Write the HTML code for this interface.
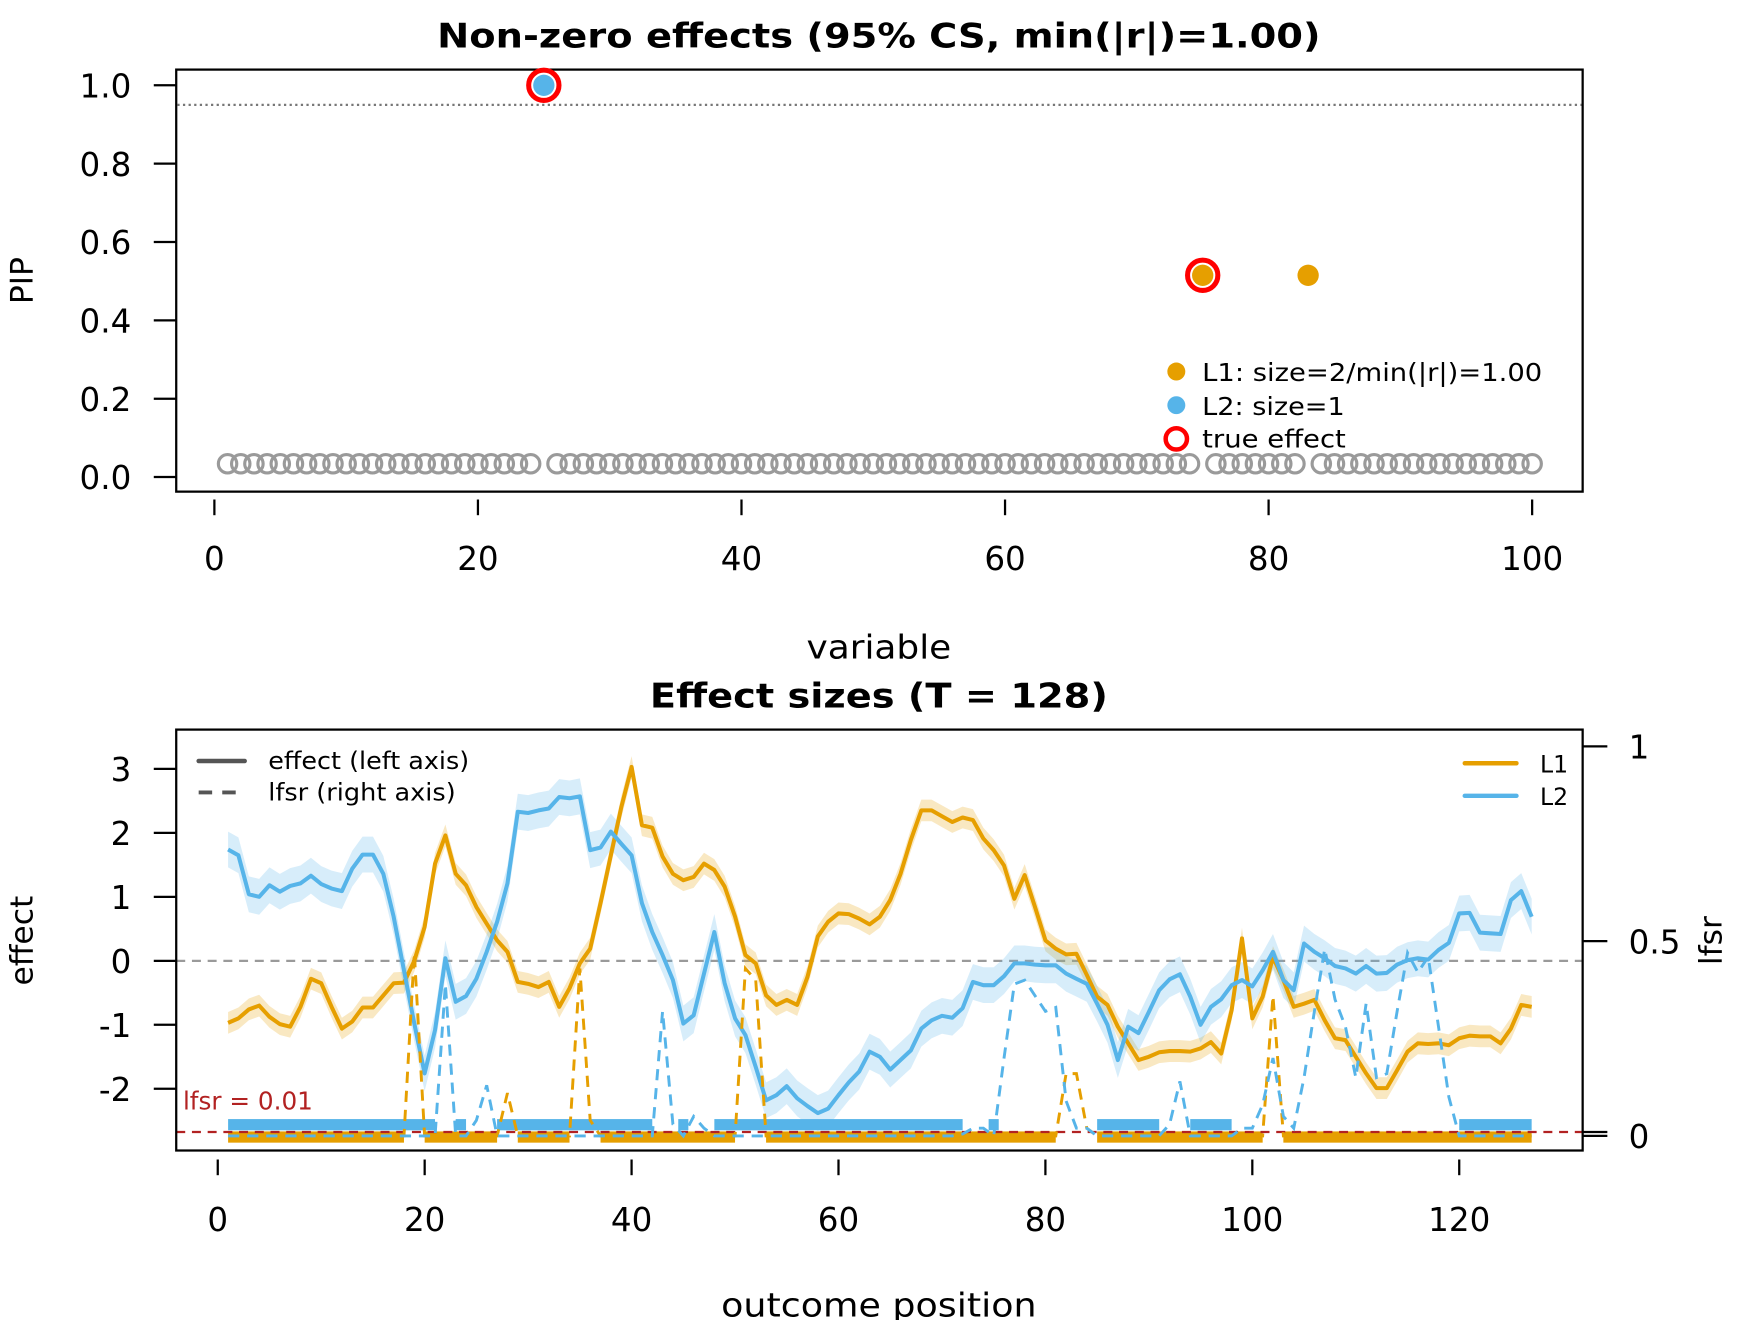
<!DOCTYPE html>
<html><head><meta charset="utf-8"><style>
html,body{margin:0;padding:0;background:#fff;}
svg{display:block;font-family:"DejaVu Sans","Liberation Sans",sans-serif;}
</style></head><body>
<svg id="fig" width="1760" height="1320" viewBox="0 0 1568 1176" xmlns="http://www.w3.org/2000/svg">
<rect x="0" y="0" width="1568" height="1176" fill="#fff"/>
<defs><clipPath id="clipB"><rect x="157" y="650" width="1253" height="375"/></clipPath></defs>
<g id="top">
<text x="783" y="32" text-anchor="middle" dominant-baseline="central" font-weight="bold" font-size="30" textLength="787" lengthAdjust="spacingAndGlyphs">Non-zero effects (95% CS, min(|r|)=1.00)</text>
<rect x="157" y="62" width="1253" height="376" fill="none" stroke="#000" stroke-width="2"/>
<text transform="translate(20,250) rotate(-90)" text-anchor="middle" dominant-baseline="central" font-size="28">PIP</text>
<text x="783" y="577" text-anchor="middle" dominant-baseline="central" font-size="29" textLength="129" lengthAdjust="spacingAndGlyphs">variable</text>
<g id="topAxes"></g>
<g id="topMarks"></g>
<g>
<circle cx="1048" cy="331" r="8" fill="#E69F00"/>
<text x="1071" y="332" dominant-baseline="central" font-size="22" textLength="303" lengthAdjust="spacingAndGlyphs">L1: size=2/min(|r|)=1.00</text>
<circle cx="1048" cy="361" r="8" fill="#56B4E9"/>
<text x="1071" y="362" dominant-baseline="central" font-size="22" textLength="127" lengthAdjust="spacingAndGlyphs">L2: size=1</text>
<circle cx="1048" cy="391" r="9.5" fill="none" stroke="#FF0000" stroke-width="4"/>
<text x="1071" y="391" dominant-baseline="central" font-size="22" textLength="128" lengthAdjust="spacingAndGlyphs">true effect</text>
</g>
</g>
<g id="bottom">
<text x="783" y="620" text-anchor="middle" dominant-baseline="central" font-weight="bold" font-size="30" textLength="408" lengthAdjust="spacingAndGlyphs">Effect sizes (T = 128)</text>
<text transform="translate(20,838) rotate(-90)" text-anchor="middle" dominant-baseline="central" font-size="28">effect</text>
<text transform="translate(1525,838) rotate(-90)" text-anchor="middle" dominant-baseline="central" font-size="28">lfsr</text>
<text x="783" y="1163" text-anchor="middle" dominant-baseline="central" font-size="29" textLength="281" lengthAdjust="spacingAndGlyphs">outcome position</text>
<g id="botAxes"></g>
<g id="botMarks" clip-path="url(#clipB)"></g>
<rect x="157" y="650" width="1253" height="375" fill="none" stroke="#000" stroke-width="2"/>
<g>
<line x1="177" y1="678" x2="218" y2="678" stroke="#555" stroke-width="4" stroke-linecap="round"/>
<text x="239" y="678" dominant-baseline="central" font-size="21" textLength="179" lengthAdjust="spacingAndGlyphs">effect (left axis)</text>
<line x1="177" y1="706" x2="218" y2="706" stroke="#555" stroke-width="3.5" stroke-dasharray="12,9"/>
<text x="239" y="706" dominant-baseline="central" font-size="21" textLength="167" lengthAdjust="spacingAndGlyphs">lfsr (right axis)</text>
</g>
<g>
<line x1="1305" y1="680" x2="1351" y2="680" stroke="#E69F00" stroke-width="4" stroke-linecap="round"/>
<text x="1372" y="681" dominant-baseline="central" font-size="21">L1</text>
<line x1="1305" y1="709" x2="1351" y2="709" stroke="#56B4E9" stroke-width="4" stroke-linecap="round"/>
<text x="1372" y="710" dominant-baseline="central" font-size="21">L2</text>
</g>
</g>
</svg>
<script>
const pipVariables = Array.from({length:100},(_,k)=>k+1);
const pipBaseline = 0.034;
const l1Members = [75, 83];
const l2Members = [25];
const l1Pip = [0.515, 0.515];
const l2Pip = [1.0];
const trueEffects = [25, 75];
const trueEffectPip = [1.0, 0.515];
const pipTicks = [0.0, 0.2, 0.4, 0.6, 0.8, 1.0];
const pipTickLabels = ["0.0","0.2","0.4","0.6","0.8","1.0"];
const varTicks = [0, 20, 40, 60, 80, 100];
const csThreshold = 0.95;

const l1Effect = [-0.97,-0.90,-0.76,-0.70,-0.875,-0.99,-1.03,-0.72,-0.28,-0.35,
-0.72,-1.06,-0.95,-0.73,-0.73,-0.54,-0.35,-0.34,0.0,0.53,
1.52,1.96,1.36,1.18,0.84,0.58,0.32,0.14,-0.33,-0.36,
-0.41,-0.33,-0.72,-0.43,-0.04,0.19,0.9,1.65,2.4,3.03,
2.12,2.08,1.63,1.36,1.26,1.31,1.52,1.42,1.16,0.69,
0.09,-0.04,-0.54,-0.69,-0.61,-0.69,-0.25,0.38,0.61,0.74,
0.73,0.66,0.57,0.69,0.95,1.36,1.89,2.35,2.35,2.26,
2.17,2.24,2.2,1.91,1.73,1.49,0.97,1.34,0.84,0.32,
0.19,0.1,0.11,-0.22,-0.56,-0.69,-1.03,-1.29,-1.55,-1.5,
-1.43,-1.41,-1.41,-1.42,-1.37,-1.27,-1.45,-0.77,0.35,-0.9,
-0.56,0.06,-0.3,-0.72,-0.67,-0.61,-0.93,-1.21,-1.24,-1.5,
-1.76,-1.99,-1.99,-1.71,-1.42,-1.29,-1.3,-1.29,-1.32,-1.21,
-1.17,-1.18,-1.18,-1.29,-1.06,-0.69,-0.72];
const l2Effect = [1.74,1.65,1.04,1.0,1.18,1.08,1.17,1.21,1.33,1.2,
1.13,1.09,1.44,1.66,1.66,1.36,0.69,-0.15,-0.98,-1.76,
-1.08,0.04,-0.64,-0.55,-0.28,0.14,0.61,1.21,2.33,2.31,
2.35,2.38,2.56,2.54,2.57,1.73,1.77,2.02,1.83,1.65,
0.90,0.45,0.09,-0.30,-0.98,-0.85,-0.20,0.45,-0.35,-0.90,
-1.16,-1.66,-2.18,-2.1,-1.96,-2.15,-2.27,-2.38,-2.31,-2.1,
-1.9,-1.73,-1.42,-1.5,-1.7,-1.55,-1.4,-1.06,-0.93,-0.86,
-0.89,-0.74,-0.33,-0.38,-0.38,-0.24,-0.04,-0.04,-0.06,-0.07,
-0.07,-0.2,-0.28,-0.36,-0.67,-1.0,-1.55,-1.03,-1.13,-0.8,
-0.46,-0.29,-0.21,-0.56,-1.0,-0.72,-0.6,-0.38,-0.3,-0.4,
-0.15,0.14,-0.3,-0.46,0.27,0.14,0.04,-0.08,-0.12,-0.2,
-0.08,-0.2,-0.19,-0.06,0.01,0.04,0.02,0.17,0.28,0.74,
0.75,0.44,0.43,0.42,0.95,1.09,0.69];
const l1Se = 0.17;
const l2Se = 0.28;
const l1Lfsr = [0,0,0,0,0,0,0,0,0,0,
0,0,0,0,0,0,0,0,0.47,0,
0,0,0,0,0,0,0,0.11,0,0,
0,0,0,0,0.43,0.04,0,0,0,0,
0,0,0,0,0,0,0,0,0,0,
0.43,0.40,0,0,0,0,0,0,0,0,
0,0,0,0,0,0,0,0,0,0,
0,0,0,0,0,0,0,0,0,0,
0,0.16,0.16,0.02,0,0,0,0,0,0,
0,0,0,0,0,0,0,0,0,0,
0,0.36,0,0,0,0,0,0,0,0,
0,0,0,0,0,0,0,0,0,0,
0,0,0,0,0,0,0];
const l2Lfsr = [0,0,0,0,0,0,0,0,0,0,
0,0,0,0,0,0,0,0,0,0,
0,0.39,0,0,0.04,0.13,0,0,0,0,
0,0,0,0,0,0,0,0,0,0,
0,0,0.32,0.03,0,0.05,0.02,0,0,0,
0,0,0,0,0,0,0,0,0,0,
0,0,0,0,0,0,0,0,0,0,
0,0.005,0.02,0.02,0,0.2,0.39,0.40,0.36,0.32,
0.33,0.09,0.02,0.02,0,0,0,0,0,0,
0,0.03,0.14,0,0,0,0,0,0.02,0.02,
0.08,0.2,0.05,0.02,0.15,0.32,0.48,0.35,0.28,0.15,
0.34,0.15,0.16,0.32,0.47,0.42,0.46,0.28,0.1,0,
0,0,0,0,0,0,0];
const lfsrThreshold = 0.01;
const effectTicks = [-2,-1,0,1,2,3];
const effectTickLabels = ["-2","-1","0","1","2","3"];
const lfsrTicks = [0, 0.5, 1];
const lfsrTickLabels = ["0","0.5","1"];
const posTicks = [0,20,40,60,80,100,120];

const NS = "http://www.w3.org/2000/svg";
const xVar = v => 191 + v*11.74;
const yPip = p => 425 - p*349;
const xPos = i => 194 + i*9.217;
const yEff = v => 856 - v*57;
const yLfsr = v => 1012 - v*347;
function mk(tag, attrs, parent){
  const el = document.createElementNS(NS, tag);
  for (const k in attrs) el.setAttribute(k, attrs[k]);
  parent.appendChild(el);
  return el;
}
const topAxes = document.getElementById('topAxes');
const topMarks = document.getElementById('topMarks');
const botAxes = document.getElementById('botAxes');
const botMarks = document.getElementById('botMarks');
const FS = 29;

pipTicks.forEach((t,k)=>{
  const ln = mk('line',{x1:137,x2:157,y1:yPip(t),y2:yPip(t),stroke:'#000','stroke-width':2},topAxes);
  
  
  const tx = mk('text',{x:117,y:yPip(t)+1,'text-anchor':'end','dominant-baseline':'central','font-size':FS},topAxes);
  
  
  tx.textContent = pipTickLabels[k];
});
varTicks.forEach(t=>{
  const ln = mk('line',{x1:xVar(t),x2:xVar(t),y1:445,y2:459,stroke:'#000','stroke-width':2},topAxes);
  
  
  const tx = mk('text',{x:xVar(t),y:498,'text-anchor':'middle','dominant-baseline':'central','font-size':FS},topAxes);
  
  
  tx.textContent = String(t);
});
const thr = mk('line',{x1:158,x2:1409,y1:yPip(csThreshold),y2:yPip(csThreshold),stroke:'#777','stroke-width':2,'stroke-dasharray':'2,3'},topAxes);



const special = new Set([...l1Members, ...l2Members]);
pipVariables.forEach(v=>{
  if (special.has(v)) return;
  const c = mk('circle',{cx:xVar(v),cy:yPip(pipBaseline),r:8.2,fill:'none',stroke:'#9a9a9a','stroke-width':2.8},topMarks);
  
  
});
trueEffects.forEach((v,k)=>{
  const c = mk('circle',{cx:xVar(v),cy:yPip(trueEffectPip[k]),r:13.5,fill:'#fff',stroke:'#FF0000','stroke-width':4.5},topMarks);
  
  
});
l1Members.forEach((v,k)=>{
  const c = mk('circle',{cx:xVar(v),cy:yPip(l1Pip[k]),r:9.5,fill:'#E69F00'},topMarks);
  
  
});
l2Members.forEach((v,k)=>{
  const c = mk('circle',{cx:xVar(v),cy:yPip(l2Pip[k]),r:9.5,fill:'#56B4E9'},topMarks);
  
  
});

effectTicks.forEach((t,k)=>{
  const ln = mk('line',{x1:137,x2:157,y1:yEff(t),y2:yEff(t),stroke:'#000','stroke-width':2},botAxes);
  
  
  const tx = mk('text',{x:117,y:yEff(t)+1,'text-anchor':'end','dominant-baseline':'central','font-size':FS},botAxes);
  
  
  tx.textContent = effectTickLabels[k];
});
lfsrTicks.forEach((t,k)=>{
  const ln = mk('line',{x1:1410,x2:1432,y1:yLfsr(t),y2:yLfsr(t),stroke:'#000','stroke-width':2},botAxes);
  
  
  const tx = mk('text',{x:1451,y:yLfsr(t)+1,'text-anchor':'start','dominant-baseline':'central','font-size':FS},botAxes);
  
  
  tx.textContent = lfsrTickLabels[k];
});
const thrTick = mk('line',{x1:1410,x2:1432,y1:yLfsr(lfsrThreshold),y2:yLfsr(lfsrThreshold),stroke:'#000','stroke-width':2},botAxes);


posTicks.forEach(t=>{
  const ln = mk('line',{x1:xPos(t),x2:xPos(t),y1:1033,y2:1047,stroke:'#000','stroke-width':2},botAxes);
  
  
  const tx = mk('text',{x:xPos(t),y:1087,'text-anchor':'middle','dominant-baseline':'central','font-size':FS},botAxes);
  
  
  tx.textContent = String(t);
});

const zl = mk('line',{x1:157,x2:1410,y1:yEff(0),y2:yEff(0),stroke:'#9a9a9a','stroke-width':2,'stroke-dasharray':'8,6'},botMarks);



function bandPath(vals, se){
  let up = vals.map((v,k)=>(k?'L':'M')+xPos(k+1).toFixed(1)+','+yEff(v+se).toFixed(1)).join('');
  let lo = vals.map((v,k)=>'L'+xPos(k+1).toFixed(1)+','+yEff(v-se).toFixed(1)).reverse().join('');
  return up+lo+'Z';
}
function linePath(vals, yf){
  return vals.map((v,k)=>(k?'L':'M')+xPos(k+1).toFixed(1)+','+yf(v).toFixed(1)).join('');
}
const b1 = mk('path',{d:bandPath(l1Effect,l1Se),fill:'rgba(230,159,0,0.24)'},botMarks);


const b2 = mk('path',{d:bandPath(l2Effect,l2Se),fill:'rgba(86,180,233,0.24)'},botMarks);



function sigBars(lfsr, yc, color, name){
  let k=0;
  while(k<lfsr.length){
    if(lfsr[k] < lfsrThreshold){
      let s=k; while(k+1<lfsr.length && lfsr[k+1]<lfsrThreshold) k++;
      let x1=xPos(s+1), x2=xPos(k+1);
      if(x2-x1<8){ const m=(x1+x2)/2; x1=m-4.5; x2=m+4.5; }
      const r = mk('rect',{x:x1,y:yc-5,width:x2-x1,height:10,fill:color},botMarks);
      
      
    }
    k++;
  }
}
sigBars(l2Lfsr, 1002, '#56B4E9', 'l2-significant-region');
sigBars(l1Lfsr, 1013, '#E69F00', 'l1-significant-region');

const e1 = mk('path',{d:linePath(l1Effect,yEff),fill:'none',stroke:'#E69F00','stroke-width':3.6,'stroke-linejoin':'round'},botMarks);


const e2 = mk('path',{d:linePath(l2Effect,yEff),fill:'none',stroke:'#56B4E9','stroke-width':3.6,'stroke-linejoin':'round'},botMarks);



const rl = mk('line',{x1:157,x2:1410,y1:yLfsr(lfsrThreshold),y2:yLfsr(lfsrThreshold),stroke:'#B22222','stroke-width':2,'stroke-dasharray':'8,6'},botMarks);



const f1 = mk('path',{d:linePath(l1Lfsr,yLfsr),fill:'none',stroke:'#E69F00','stroke-width':2.6,'stroke-dasharray':'10,7'},botMarks);


const f2 = mk('path',{d:linePath(l2Lfsr,yLfsr),fill:'none',stroke:'#56B4E9','stroke-width':2.6,'stroke-dasharray':'10,7'},botMarks);



const lt = mk('text',{x:163,y:981,'dominant-baseline':'central','font-size':22,fill:'#B22222'},botMarks);


lt.textContent = 'lfsr = 0.01';
</script>
</body></html>
